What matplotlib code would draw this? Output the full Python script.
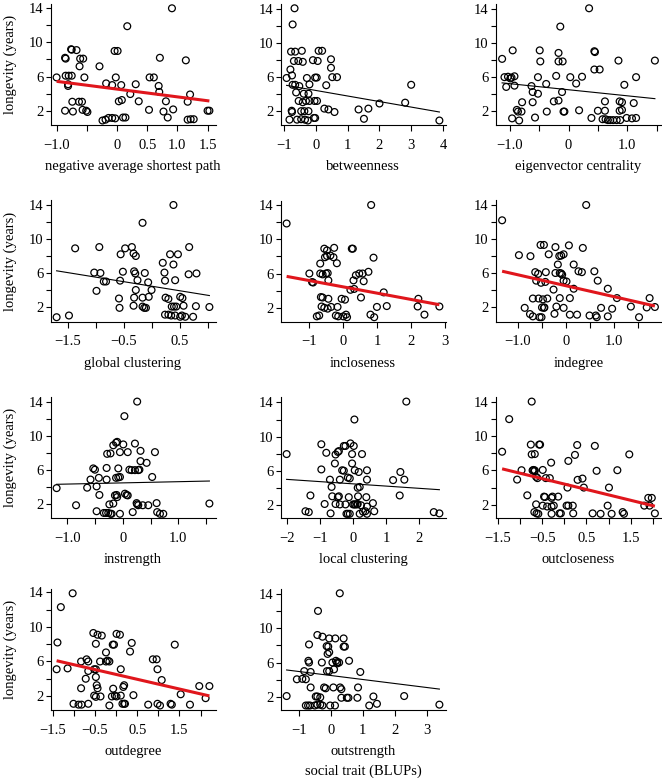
import matplotlib
matplotlib.use("Agg")
import matplotlib.pyplot as plt
import numpy as np

plt.rcParams['font.family'] = ['Liberation Serif', 'DejaVu Serif']
plt.rcParams['axes.unicode_minus'] = True

# ---------------- data (social trait BLUP, longevity in years) ----------------
nasp = [(-1.0, 5.9), (-0.86, 8.2), (-0.85, 8.1), (-0.76, 9.2), (-0.75, 9.15), (-0.67, 9.1),
        (-0.85, 6.1), (-0.8, 6.1), (-0.75, 6.1), (-0.81, 5.1), (-0.81, 4.9), (-0.62, 7.2),
        (-0.61, 8.1), (-0.56, 8.1), (-0.54, 5.9), (-0.86, 2.0), (-0.74, 3.05), (-0.73, 1.9),
        (-0.63, 3.05), (-0.58, 3.05), (-0.57, 2.1), (-0.51, 2.0), (-0.49, 1.85), (-0.29, 7.2),
        (-0.24, 0.85), (-0.19, 0.95), (-0.14, 1.15), (-0.08, 1.15), (-0.03, 1.1), (-0.18, 5.2),
        (-0.08, 5.0), (-0.04, 9.0), (0.01, 9.0), (-0.02, 5.9), (0.03, 3.1), (0.08, 3.25),
        (0.07, 5.0), (0.1, 1.2), (0.14, 1.2), (0.17, 11.9), (0.22, 3.95), (0.31, 5.1),
        (0.36, 3.1), (0.53, 2.1), (0.54, 5.9), (0.61, 5.9), (0.69, 4.9), (0.7, 4.2),
        (0.71, 8.2), (0.77, 1.9), (0.81, 3.1), (0.84, 1.2), (0.91, 14.0), (0.93, 2.15),
        (1.14, 7.9), (1.17, 0.95), (1.22, 1.0), (1.27, 1.0), (1.17, 3.05), (1.21, 3.9),
        (1.5, 2.0), (1.53, 2.0)]

betweenness = [(-0.68, 14.1), (-0.74, 12.2), (-0.79, 9.0), (-0.66, 9.0), (-0.45, 9.1),
               (-0.7, 7.9), (-0.56, 7.9), (-0.42, 7.8), (-0.81, 6.9), (-0.76, 6.2), (-0.93, 5.9),
               (-0.74, 5.1), (-0.66, 5.1), (-0.53, 4.95), (-0.63, 4.2), (-0.39, 4.05),
               (-0.24, 4.05), (-0.55, 3.2), (-0.42, 3.05), (-0.32, 3.2), (-0.21, 3.2),
               (-0.77, 2.05), (-0.76, 1.9), (-0.47, 2.0), (-0.37, 2.0), (-0.24, 2.0),
               (-0.84, 1.0), (-0.6, 1.0), (-0.47, 1.05), (-0.35, 1.0), (-0.26, 0.9),
               (-0.07, 1.2), (-0.03, 1.2), (-0.29, 5.9), (-0.21, 5.15), (-0.03, 5.95),
               (0.02, 5.95), (-0.1, 8.0), (0.05, 7.9), (0.08, 9.1), (0.19, 9.1), (-0.05, 3.2),
               (0.03, 3.2), (0.26, 2.3), (0.39, 2.2), (0.58, 1.9), (0.32, 5.05), (0.47, 8.1),
               (0.47, 7.1), (0.51, 6.0), (0.66, 6.0), (1.34, 2.2), (1.51, 1.1), (1.65, 2.3),
               (2.0, 2.9), (2.81, 3.0), (3.0, 5.1), (3.89, 0.9)]

eigenvector = [(-1.13, 8.1), (-1.09, 5.95), (-1.03, 6.0), (-0.97, 5.9), (-1.06, 4.8),
               (-0.92, 4.95), (-0.99, 5.8), (-0.92, 6.05), (-0.95, 9.1), (-0.96, 1.1),
               (-0.88, 2.1), (-0.86, 1.9), (-0.8, 1.9), (-0.84, 0.85), (-0.79, 3.0),
               (-0.63, 4.9), (-0.61, 4.2), (-0.52, 4.0), (-0.61, 3.0), (-0.57, 1.2),
               (-0.52, 5.95), (-0.49, 9.1), (-0.48, 7.8), (-0.38, 5.15), (-0.37, 1.9),
               (-0.25, 3.1), (-0.17, 3.2), (-0.21, 6.1), (-0.17, 8.8), (-0.17, 7.8),
               (-0.1, 7.8), (-0.14, 11.9), (-0.11, 4.2), (-0.085, 1.9), (-0.07, 1.9),
               (0.03, 5.95), (0.13, 5.2), (0.18, 2.05), (0.23, 6.0), (0.35, 14.05), (0.39, 1.15),
               (0.44, 9.0), (0.45, 8.9), (0.44, 6.85), (0.53, 6.85), (0.5, 2.0), (0.62, 3.1),
               (0.58, 1.0), (0.63, 1.0), (0.67, 0.9), (0.71, 0.9), (0.76, 0.9), (0.82, 0.9),
               (0.88, 0.9), (0.62, 2.0), (0.85, 7.9), (0.87, 3.1), (0.91, 3.0), (0.87, 2.0),
               (0.91, 2.1), (0.95, 5.05), (0.99, 1.15), (1.08, 1.1), (1.15, 1.15), (1.11, 2.9),
               (1.15, 5.95), (1.47, 7.9)]

global_clustering = [(-1.7, 0.8), (-1.48, 1.0), (-1.37, 8.9), (-1.03, 6.05), (-0.99, 3.9),
                     (-0.94, 9.05), (-0.92, 6.0), (-0.86, 5.0), (-0.82, 5.0), (-0.59, 3.0),
                     (-0.58, 1.9), (-0.57, 5.1), (-0.56, 8.2), (-0.52, 6.15), (-0.48, 8.9),
                     (-0.36, 9.05), (-0.33, 8.3), (-0.29, 8.0), (-0.32, 6.2), (-0.3, 5.95),
                     (-0.32, 3.1), (-0.29, 4.0), (-0.33, 2.15), (-0.26, 5.15), (-0.17, 11.9),
                     (-0.17, 3.1), (-0.17, 2.05), (-0.14, 1.9), (-0.11, 1.9), (-0.13, 6.0),
                     (-0.07, 4.9), (-0.06, 3.2), (-0.01, 4.0), (0.19, 7.2), (0.22, 6.05),
                     (0.23, 5.1), (0.24, 3.1), (0.29, 2.95), (0.23, 1.1), (0.29, 1.1),
                     (0.34, 1.0), (0.41, 1.0), (0.5, 0.85), (0.53, 1.0), (0.32, 8.2),
                     (0.35, 2.05), (0.39, 2.05), (0.43, 2.05), (0.38, 7.0), (0.41, 5.15),
                     (0.38, 14.0), (0.46, 8.2), (0.5, 3.2), (0.54, 3.05), (0.56, 2.15),
                     (0.59, 0.85), (0.65, 5.85), (0.66, 9.05), (0.73, 0.85), (0.78, 2.1),
                     (0.79, 5.95), (1.02, 2.0)]

incloseness = [(-1.67, 11.84), (-1.0, 6.0), (-0.92, 5.0), (-0.89, 4.95), (-0.68, 7.16),
               (-0.68, 6.0), (-0.56, 8.9), (-0.48, 8.7), (-0.54, 7.9), (-0.48, 8.05),
               (-0.38, 8.1), (-0.27, 9.0), (-0.29, 7.9), (-0.19, 7.2), (-0.61, 5.9),
               (-0.51, 6.0), (-0.46, 6.05), (-0.44, 5.2), (-0.66, 3.25), (-0.61, 3.2),
               (-0.64, 2.15), (-0.56, 2.0), (-0.44, 3.05), (-0.36, 2.1), (-0.46, 1.9),
               (-0.78, 1.0), (-0.71, 1.1), (-0.17, 2.1), (-0.22, 1.1), (-0.15, 1.0),
               (-0.05, 3.05), (0.05, 2.95), (0.0, 1.0), (0.08, 1.2), (0.11, 0.9), (0.21, 4.1),
               (0.25, 8.9), (0.28, 8.9), (0.32, 4.2), (0.3, 5.2), (0.37, 5.8), (0.47, 6.0),
               (0.57, 6.0), (0.52, 3.2), (0.6, 5.1), (0.74, 6.2), (0.82, 14.0), (0.89, 7.85),
               (0.8, 1.2), (0.91, 0.9), (0.99, 2.1), (1.19, 3.8), (1.28, 2.2), (2.21, 3.05),
               (2.19, 2.15), (2.39, 1.2), (2.83, 2.15)]

indegree = [(-1.33, 12.2), (-0.98, 8.1), (-0.74, 7.98), (-0.86, 1.9), (-0.75, 1.17),
            (-0.69, 0.9), (-0.69, 3.0), (-0.64, 6.1), (-0.58, 5.9), (-0.62, 5.1), (-0.57, 3.0),
            (-0.55, 0.8), (-0.51, 0.8), (-0.53, 9.3), (-0.46, 9.3), (-0.52, 4.85),
            (-0.5, 1.95), (-0.46, 1.9), (-0.45, 1.95), (-0.48, 2.9), (-0.42, 6.1),
            (-0.43, 4.95), (-0.39, 3.0), (-0.36, 8.2), (-0.26, 4.05), (-0.24, 1.2),
            (-0.22, 9.05), (-0.22, 6.0), (-0.2, 2.05), (-0.17, 7.0), (-0.14, 8.0),
            (-0.1, 8.05), (-0.05, 8.2), (-0.13, 3.05), (-0.13, 6.0), (-0.1, 5.95),
            (-0.08, 5.8), (-0.05, 5.1), (0.01, 5.0), (-0.05, 1.9), (0.06, 9.25), (0.08, 1.1),
            (0.08, 3.05), (0.16, 7.0), (0.16, 4.15), (0.23, 1.1), (0.26, 6.2), (0.33, 6.1),
            (0.35, 8.95), (0.42, 14.0), (0.49, 1.0), (0.59, 6.2), (0.62, 1.0), (0.64, 0.8),
            (0.66, 5.1), (0.73, 1.9), (0.87, 4.15), (0.87, 0.9), (0.96, 1.8), (1.06, 3.05),
            (1.35, 2.05), (1.52, 0.8), (1.68, 1.95), (1.74, 3.05), (1.85, 2.0)]

instrength = [(-1.19, 3.9), (-0.84, 1.9), (-0.64, 3.95), (-0.58, 4.9), (-0.53, 6.2),
              (-0.5, 6.05), (-0.47, 4.1), (-0.47, 1.2), (-0.43, 5.1), (-0.42, 3.1),
              (-0.34, 1.0), (-0.3, 1.0), (-0.26, 1.0), (-0.29, 6.25), (-0.29, 4.9),
              (-0.28, 7.9), (-0.22, 7.95), (-0.24, 2.0), (-0.22, 0.9), (-0.2, 0.9),
              (-0.17, 2.1), (-0.17, 8.9), (-0.12, 9.2), (-0.1, 9.3), (-0.14, 3.05),
              (-0.11, 3.1), (-0.1, 2.85), (-0.12, 5.1), (-0.08, 5.15), (-0.05, 5.2),
              (-0.08, 6.2), (-0.05, 8.1), (-0.05, 0.9), (0.03, 12.3), (0.01, 9.0),
              (0.04, 3.25), (0.07, 3.1), (0.09, 3.05), (0.09, 8.1), (0.12, 6.05), (0.16, 6.0),
              (0.22, 6.0), (0.28, 6.0), (0.3, 6.05), (0.18, 1.1), (0.22, 9.1), (0.26, 14.0),
              (0.25, 2.15), (0.26, 2.0), (0.28, 1.9), (0.32, 8.25), (0.32, 7.05), (0.36, 1.9),
              (0.43, 6.85), (0.46, 1.9), (0.53, 5.2), (0.58, 8.1), (0.61, 2.15), (0.62, 1.1),
              (0.67, 0.9), (0.73, 0.9), (1.56, 2.1)]

local_clustering = [(-2.01, 7.95), (-1.44, 1.25), (-1.34, 1.15), (-1.29, 3.1), (-0.96, 9.1),
                    (-0.96, 6.15), (-0.86, 2.1), (-0.81, 8.1), (-0.7, 4.95), (-0.68, 1.0),
                    (-0.65, 4.1), (-0.63, 3.0), (-0.55, 6.85), (-0.53, 7.9), (-0.46, 8.2),
                    (-0.43, 8.3), (-0.53, 2.1), (-0.46, 2.9), (-0.43, 3.0), (-0.4, 2.05),
                    (-0.4, 4.95), (-0.33, 6.05), (-0.28, 6.0), (-0.28, 8.9), (-0.23, 8.9),
                    (-0.23, 2.05), (-0.2, 0.95), (-0.16, 0.95), (-0.1, 0.95), (-0.16, 5.2),
                    (-0.1, 5.1), (-0.13, 2.9), (-0.08, 9.2), (-0.03, 7.95), (-0.03, 6.85),
                    (0.0, 2.05), (0.04, 2.05), (0.07, 2.05), (0.12, 2.05), (0.14, 2.1),
                    (0.02, 8.9), (0.04, 12.0), (0.05, 6.05), (0.14, 4.0), (0.2, 4.1),
                    (0.15, 3.0), (0.17, 5.85), (0.2, 0.95), (0.3, 1.2), (0.27, 7.95),
                    (0.24, 1.95), (0.37, 1.25), (0.42, 0.95), (0.42, 6.05), (0.42, 4.95),
                    (0.4, 2.9), (0.42, 1.8), (0.6, 2.2), (0.64, 1.25), (1.21, 4.9), (1.41, 3.1),
                    (1.43, 5.85), (1.55, 4.95), (1.61, 14.1), (2.44, 1.15), (2.61, 1.0)]

outcloseness = [(-1.41, 8.17), (-1.25, 11.96), (-1.07, 4.93), (-0.97, 6.02), (-0.84, 3.1),
                (-0.76, 9.0), (-0.74, 7.86), (-0.67, 7.9), (-0.74, 14.0), (-0.72, 6.0),
                (-0.7, 6.05), (-0.68, 5.9), (-0.67, 6.0), (-0.64, 5.25), (-0.61, 5.1),
                (-0.64, 2.05), (-0.68, 1.15), (-0.63, 1.0), (-0.59, 0.95), (-0.57, 9.0),
                (-0.55, 9.0), (-0.49, 6.05), (-0.49, 1.9), (-0.46, 2.95), (-0.44, 2.9),
                (-0.39, 1.8), (-0.42, 5.1), (-0.3, 6.9), (-0.33, 5.1), (-0.29, 2.8),
                (-0.27, 2.95), (-0.29, 1.8), (-0.24, 1.9), (-0.29, 0.95), (-0.11, 1.0),
                (-0.08, 1.0), (-0.14, 2.95), (0.07, 4.0), (0.09, 7.1), (0.05, 1.9), (0.09, 1.9),
                (0.19, 1.9), (0.2, 1.0), (0.24, 7.8), (0.29, 8.95), (0.3, 4.9), (0.41, 5.05),
                (0.44, 4.0), (0.64, 1.0), (0.69, 8.85), (0.73, 5.95), (0.82, 0.95), (0.98, 1.9),
                (1.01, 4.0), (1.07, 0.95), (1.2, 6.02), (1.32, 1.15), (1.35, 0.95), (1.47, 7.86),
                (1.81, 1.9), (1.9, 2.8), (1.98, 2.8), (1.93, 1.9), (2.05, 1.0)]

outdegree = [(-1.39, 8.2), (-1.41, 5.1), (-1.31, 12.3), (-1.15, 5.2), (-1.03, 13.9),
             (-1.01, 1.1), (-0.89, 1.0), (-0.82, 1.0), (-0.83, 2.9), (-0.83, 6.0), (-0.72, 4.0),
             (-0.7, 6.25), (-0.66, 6.0), (-0.66, 1.1), (-0.66, 4.9), (-0.54, 9.3), (-0.52, 5.1),
             (-0.48, 5.1), (-0.48, 8.05), (-0.44, 9.1), (-0.52, 2.05), (-0.48, 1.9),
             (-0.48, 4.2), (-0.46, 3.25), (-0.44, 2.9), (-0.37, 1.95), (-0.38, 6.0),
             (-0.34, 9.0), (-0.24, 7.05), (-0.24, 6.0), (-0.2, 6.1), (-0.16, 6.0),
             (-0.16, 0.9), (-0.1, 1.95), (-0.03, 2.05), (0.01, 1.95), (-0.08, 7.95),
             (-0.05, 7.95), (-0.07, 2.85), (0.01, 9.2), (0.09, 9.1), (0.11, 5.1), (0.11, 2.05),
             (0.15, 1.1), (0.19, 1.1), (0.21, 1.1), (0.17, 3.05), (0.19, 3.25), (0.33, 7.15),
             (0.37, 8.15), (0.41, 2.1), (0.76, 1.0), (0.87, 6.25), (0.96, 6.25), (0.98, 5.1),
             (0.98, 1.1), (1.04, 0.9), (1.08, 3.85), (1.29, 1.1), (1.32, 1.0), (1.39, 7.95),
             (1.53, 2.2), (1.75, 1.0), (1.97, 3.15), (2.12, 1.75), (2.21, 3.15)]

outstrength = [(-1.38, 2.1), (-1.06, 4.05), (-0.89, 4.1), (-0.78, 4.05), (-0.83, 5.0),
               (-0.78, 1.0), (-0.71, 1.0), (-0.65, 1.0), (-0.68, 8.1), (-0.7, 6.2),
               (-0.68, 6.0), (-0.63, 4.9), (-0.63, 3.1), (-0.47, 2.05), (-0.42, 2.05),
               (-0.33, 1.95), (-0.5, 1.0), (-0.42, 1.1), (-0.33, 1.1), (-0.26, 1.0),
               (-0.4, 12.0), (-0.42, 9.2), (-0.26, 9.0), (-0.28, 6.0), (-0.21, 3.1),
               (-0.16, 3.0), (-0.13, 7.9), (-0.08, 7.85), (-0.1, 7.0), (-0.05, 7.2),
               (-0.05, 8.8), (-0.12, 5.0), (-0.05, 5.0), (-0.02, 1.0), (0.13, 1.0), (0.05, 6.0),
               (0.08, 3.1), (0.1, 5.2), (0.14, 8.8), (0.16, 6.2), (0.2, 6.05), (0.26, 6.0),
               (0.2, 5.9), (0.28, 14.05), (0.29, 3.1), (0.33, 2.9), (0.33, 1.9), (0.4, 8.8),
               (0.4, 7.85), (0.44, 7.85), (0.5, 1.9), (0.55, 1.9), (0.57, 6.2), (0.83, 1.9),
               (0.85, 3.1), (0.92, 4.9), (1.2, 1.0), (1.33, 2.05), (1.44, 1.2), (2.29, 2.1),
               (3.39, 1.1)]

# fitted lines: (intercept, slope, significant)
fits = {
    'negative average shortest path': (4.53, -0.909, True),
    'betweenness': (4.43, -0.65, False),
    'eigenvector centrality': (4.47, -0.714, False),
    'global clustering': (4.44, -1.07, False),
    'incloseness': (4.44, -0.735, True),
    'indegree': (4.50, -1.287, True),
    'instrength': (4.51, 0.139, False),
    'local clustering': (4.46, -0.262, False),
    'outcloseness': (4.41, -1.256, True),
    'outdegree': (4.50, -1.126, True),
    'outstrength': (4.49, -0.466, False),
}

M = '\u2212'
ticks_a = [-1.0, -0.5, 0, 0.5, 1.0, 1.5]
labs_a = [M + '1.0', '', '0', '0.5', '1.0', '1.5']
labs_b = [M + '1.0', '', '0', '', '1.0', '']
ticks_c = [-1.5, -1.0, -0.5, 0, 0.5, 1.0]
labs_c = [M + '1.5', '', M + '0.5', '', '0.5', '']
ticks_d = [-1.5, -1.0, -0.5, 0, 0.5, 1.0, 1.5, 2.0]
labs_d = [M + '1.5', '', M + '0.5', '', '0.5', '', '1.5', '']

panels = [
    ('negative average shortest path', nasp, ticks_a, labs_a),
    ('betweenness', betweenness, [-1, 0, 1, 2, 3, 4], [M + '1', '0', '1', '2', '3', '4']),
    ('eigenvector centrality', eigenvector, ticks_a, labs_b),
    ('global clustering', global_clustering, ticks_c, labs_c),
    ('incloseness', incloseness, [-1, 0, 1, 2, 3], [M + '1', '0', '1', '2', '3']),
    ('indegree', indegree, ticks_a, labs_b),
    ('instrength', instrength, ticks_a, labs_b),
    ('local clustering', local_clustering, [-2, -1, 0, 1, 2], [M + '2', M + '1', '0', '1', '2']),
    ('outcloseness', outcloseness, ticks_d, labs_d),
    ('outdegree', outdegree, ticks_d, labs_d),
    ('outstrength', outstrength, [-1, 0, 1, 2, 3], [M + '1', '0', '1', '2', '3']),
]

y_ticks = [2, 4, 6, 8, 10, 12, 14]
y_labels = ['2', '', '6', '', '10', '', '14']

W, H = 662, 778
fig = plt.figure(figsize=(W / 100, H / 100), dpi=100)
col_left = [50.5, 280.5, 496.0]
row_bottom = [125.0, 321.7, 518.3, 710.0]
aw, ah = 165.0, 121.2
FS = 10.5

for i, (name, pts, xt, xtl) in enumerate(panels):
    r, c = divmod(i, 3)
    ax = fig.add_axes([col_left[c] / W, 1 - row_bottom[r] / H, aw / W, ah / H])
    x = np.array([p[0] for p in pts])
    y = np.array([p[1] for p in pts])
    ax.scatter(x, y, s=24, facecolors='none', edgecolors='black', linewidths=0.9,
               zorder=3, clip_on=False)
    a, b, sig = fits[name]
    xl = np.array([x.min(), x.max()])
    if sig:
        ax.plot(xl, a + b * xl, color='#e0161c', lw=2.2, zorder=4, solid_capstyle='butt')
    else:
        ax.plot(xl, a + b * xl, color='black', lw=0.8, zorder=4)
    xr = x.max() - x.min()
    ax.set_xlim(x.min() - 0.04 * xr, x.max() + 0.04 * xr)
    yr = y.max() - y.min()
    ax.set_ylim(y.min() - 0.04 * yr, y.max() + 0.04 * yr)
    for s in ('top', 'right'):
        ax.spines[s].set_visible(False)
    for s in ('left', 'bottom'):
        ax.spines[s].set_linewidth(0.8)
    ax.set_xticks(xt)
    ax.set_xticklabels(xtl)
    ax.set_yticks(y_ticks)
    ax.set_yticklabels(y_labels)
    ax.tick_params(axis='x', direction='out', length=4.3, width=0.8, pad=5.5, labelsize=FS)
    ax.tick_params(axis='y', direction='out', length=3.8, width=0.8, pad=1.5, labelsize=FS)
    ax.set_xlabel(name, fontsize=FS)
    ax.xaxis.set_label_coords(0.5, -45.0 / ah)
    ax.xaxis.label.set_verticalalignment('baseline')
    if c == 0:
        ax.set_ylabel('longevity (years)', fontsize=FS)
        ax.yaxis.set_label_coords(-40.5 / aw, 0.5)
        ax.yaxis.label.set_verticalalignment('center')
    if i == 10:
        ax.text(0.5, -65.0 / ah, 'social trait (BLUPs)', transform=ax.transAxes,
                ha='center', va='baseline', fontsize=FS)

fig.savefig('out.png', dpi=100)
